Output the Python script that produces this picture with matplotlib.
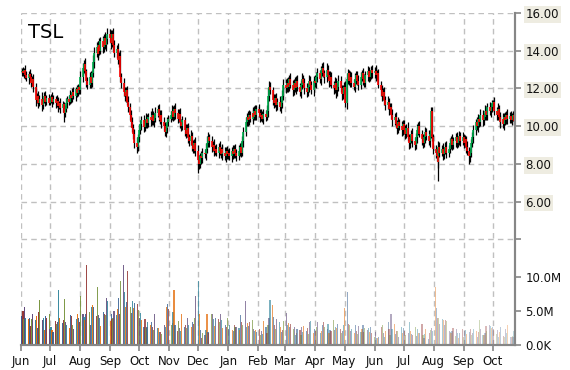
import matplotlib
matplotlib.use("Agg")  # headless
import matplotlib.pyplot as plt
import matplotlib.dates as mdates
import numpy as np
import pandas as pd

TICKER = "TSL"
START_DAY = "2014-06-02"
FIRST_OPEN = 12.85

# daily closes, one line per month (Jun 2014 .. Oct 2015)
CLOSE = [
    12.95, 12.80, 13.00, 12.70, 12.55, 12.75, 12.60, 12.30, 12.50, 12.10, 11.70, 11.40, 11.60, 11.20, 11.45, 11.10, 11.35, 11.60, 11.30, 11.50, 11.25,
    11.40, 11.55, 11.30, 11.45, 11.20, 11.35, 11.05, 11.25, 10.95, 11.15, 10.70, 10.90, 11.20, 11.45, 11.30, 11.65, 11.50, 11.80, 11.60, 11.95, 11.75, 12.05, 11.90,
    12.60, 13.10, 13.30, 12.90, 12.40, 12.20, 12.60, 12.30, 12.80, 13.40, 13.90, 14.20, 13.80, 14.30, 14.00, 14.50, 14.20, 14.70, 14.30, 14.60, 14.90,
    14.70, 14.40, 14.90, 14.30, 13.90, 14.10, 13.50, 13.70, 12.60, 12.30, 11.80, 11.60, 11.90, 11.30, 11.00, 10.60, 10.20, 9.90, 9.60, 9.10, 8.90, 9.40,
    9.80, 10.10, 10.30, 9.95, 10.20, 10.40, 10.15, 10.50, 10.30, 10.60, 10.25, 10.45, 10.70, 10.90, 10.55, 10.35, 10.60, 10.20, 10.00, 9.70, 9.90, 10.20, 10.40,
    10.60, 10.80, 10.50, 10.90, 10.70, 10.40, 10.65, 10.20, 10.00, 10.30, 9.80, 9.60, 9.90, 9.40, 9.20, 9.50, 9.00, 8.80, 9.10, 8.70,
    8.20, 8.00, 8.40, 8.30, 8.60, 8.50, 8.80, 9.10, 9.40, 9.20, 8.90, 9.00, 8.70, 8.80, 8.60, 8.90, 8.70, 8.50, 8.80, 8.60, 8.40, 8.70, 8.50,
    8.60, 8.40, 8.70, 8.50, 8.80, 8.60, 8.40, 8.70, 8.90, 8.60, 9.20, 9.70, 10.20, 10.50, 10.30, 10.60, 10.40, 10.70, 10.50, 10.80, 10.60, 10.90,
    10.70, 10.50, 10.60, 10.40, 10.65, 10.50, 10.80, 11.60, 12.10, 11.90, 11.40, 11.20, 11.50, 11.10, 11.30, 11.00, 11.20, 11.60, 11.90, 12.20,
    12.00, 12.30, 12.10, 12.50, 12.20, 11.90, 12.30, 12.00, 12.40, 12.10, 11.80, 12.20, 12.50, 12.30, 12.00, 11.80, 12.10, 12.40, 12.20, 11.90, 12.20, 12.40,
    12.30, 12.60, 12.80, 12.50, 12.90, 13.10, 12.80, 12.60, 13.00, 12.70, 12.40, 12.60, 12.20, 12.00, 12.30, 11.90, 12.10, 12.40, 12.00, 11.70, 11.90, 12.10,
    11.20, 12.50, 12.80, 12.40, 12.60, 12.30, 12.10, 12.50, 12.70, 12.40, 12.20, 12.60, 12.80, 12.50, 12.30, 12.70, 12.90, 12.60, 12.80, 13.00, 12.80,
    12.90, 12.95, 12.70, 12.80, 12.20, 11.90, 11.60, 11.80, 11.40, 11.10, 11.30, 10.90, 11.00, 10.60, 10.30, 10.50, 10.10, 9.90, 10.20, 10.00, 9.80, 10.10,
    9.80, 9.60, 9.90, 9.40, 9.10, 9.30, 9.60, 9.20, 9.00, 9.40, 9.80, 10.00, 9.60, 9.30, 9.10, 9.40, 9.70, 9.50, 9.20, 9.60, 10.80, 9.40, 8.80,
    8.60, 8.40, 8.10, 8.90, 8.60, 8.80, 8.50, 8.70, 8.90, 8.60, 8.80, 9.10, 9.30, 9.00, 9.20, 9.40, 9.10, 9.30, 9.50, 9.20, 9.40,
    9.10, 9.30, 8.90, 8.70, 8.40, 8.60, 9.10, 9.40, 9.80, 10.20, 10.00, 10.40, 10.20, 10.60, 10.30, 10.50, 10.80, 10.60, 11.00, 10.80, 11.00, 11.20,
    11.30, 10.80, 10.60, 10.90, 10.50, 10.20, 10.40, 10.10, 10.50, 10.30, 10.60, 10.40, 10.55, 10.35, 10.50, 10.60, 10.25,
]

# shadow above the body / below the body
WICK_UP = [
    .15, .20, .10, .25, .20, .15, .30, .20, .15, .25, .20, .30, .15, .25, .20, .35, .15, .20, .25, .15, .20,
    .20, .15, .25, .20, .15, .30, .20, .10, .25, .20, .15, .20, .30, .15, .20, .25, .15, .20, .30, .15, .25, .20, .15,
    .30, .25, .20, .30, .15, .20, .25, .30, .20, .35, .30, .25, .30, .20, .35, .25, .30, .20, .30, .20, .30,
    .25, .40, .20, .30, .25, .20, .30, .25, .35, .20, .25, .30, .20, .25, .30, .20, .25, .30, .20, .25, .30, .20,
    .30, .20, .25, .30, .20, .30, .25, .20, .30, .35, .20, .25, .30, .20, .25, .30, .20, .25, .30, .20, .25, .30, .20,
    .20, .30, .25, .20, .30, .20, .25, .30, .20, .25, .20, .30, .20, .25, .20, .30, .20, .25, .20, .30,
    .30, .25, .20, .30, .25, .20, .30, .35, .30, .20, .25, .20, .30, .20, .25, .20, .30, .20, .25, .20, .30, .20, .25,
    .20, .25, .20, .30, .20, .25, .20, .30, .20, .25, .30, .25, .30, .20, .30, .25, .20, .30, .20, .25, .30, .20,
    .25, .20, .30, .20, .25, .20, .30, .40, .30, .25, .20, .30, .20, .25, .20, .30, .20, .30, .25, .30,
    .30, .25, .30, .20, .30, .25, .20, .30, .25, .30, .20, .25, .30, .20, .25, .30, .20, .30, .25, .20, .30, .25,
    .30, .25, .30, .20, .30, .25, .30, .20, .35, .25, .20, .30, .25, .20, .30, .25, .20, .30, .25, .20, .30, .25,
    .30, .30, .25, .20, .30, .25, .20, .30, .25, .20, .30, .25, .20, .30, .25, .20, .30, .25, .20, .20, .25,
    .25, .20, .30, .20, .25, .20, .30, .20, .25, .20, .30, .20, .25, .20, .30, .20, .25, .20, .30, .20, .25, .20,
    .20, .25, .20, .30, .20, .25, .20, .30, .20, .25, .30, .20, .25, .20, .30, .20, .25, .20, .30, .20, .20, .20, .20,
    .20, .25, .20, .30, .25, .20, .30, .20, .25, .30, .20, .25, .20, .30, .20, .25, .30, .20, .25, .20, .30,
    .20, .25, .20, .30, .20, .25, .20, .30, .25, .20, .30, .25, .20, .30, .25, .20, .30, .25, .20, .30, .25, .20,
    .10, .25, .20, .30, .20, .25, .20, .30, .20, .25, .20, .30, .20, .25, .20, .20, .25,
]
WICK_DN = [
    .20, .15, .25, .20, .15, .30, .20, .25, .15, .30, .20, .35, .20, .25, .15, .30, .20, .15, .25, .20, .15,
    .15, .20, .30, .15, .25, .20, .30, .15, .25, .20, .50, .20, .15, .25, .20, .15, .30, .20, .15, .25, .20, .15, .20,
    .20, .25, .30, .20, .30, .25, .20, .30, .25, .20, .30, .25, .20, .30, .25, .20, .30, .25, .20, .30, .25,
    .25, .30, .20, .30, .25, .30, .20, .35, .25, .30, .20, .25, .30, .20, .25, .30, .25, .20, .30, .25, .30, .20,
    .25, .20, .30, .25, .20, .30, .25, .20, .30, .25, .20, .30, .25, .20, .30, .25, .20, .30, .25, .20, .30, .25, .20,
    .20, .30, .25, .20, .30, .25, .20, .30, .25, .20, .30, .25, .20, .30, .25, .20, .30, .25, .20, .30,
    .70, .25, .20, .30, .25, .20, .30, .25, .20, .30, .25, .20, .30, .25, .20, .30, .25, .20, .30, .25, .20, .30, .25,
    .25, .20, .30, .25, .20, .30, .25, .20, .30, .25, .20, .30, .25, .20, .30, .25, .20, .30, .25, .20, .30, .25,
    .20, .30, .25, .20, .30, .25, .20, .30, .25, .20, .30, .25, .20, .30, .25, .20, .30, .25, .20, .30,
    .25, .20, .30, .25, .20, .30, .25, .20, .30, .25, .20, .30, .25, .20, .30, .25, .20, .30, .25, .20, .30, .25,
    .20, .30, .25, .20, .30, .25, .20, .30, .25, .20, .30, .25, .20, .30, .25, .40, .30, .25, .20, .30, .25, .20,
    .20, .30, .25, .20, .30, .25, .20, .30, .25, .20, .30, .25, .20, .30, .25, .20, .30, .25, .20, .30, .25,
    .25, .20, .30, .25, .20, .30, .25, .20, .30, .25, .20, .30, .25, .20, .30, .25, .20, .30, .25, .20, .30, .25,
    .20, .30, .25, .20, .30, .25, .20, .30, .25, .20, .30, .25, .20, .30, .25, .20, .30, .25, .20, .30, .25, .20, .30,
    .30, .25, .30, 1.00, .25, .20, .30, .25, .20, .30, .25, .20, .30, .25, .20, .30, .25, .20, .30, .25, .20,
    .25, .20, .30, .25, .40, .30, .25, .20, .30, .25, .20, .30, .25, .20, .30, .25, .20, .30, .25, .20, .30, .25,
    .25, .20, .30, .25, .20, .30, .25, .20, .30, .25, .20, .30, .25, .20, .30, .25, .20,
]

# daily volume in millions
VOLUME_M = [
    4.2, 5.0, 3.8, 5.6, 3.9, 3.8, 4.0, 2.8, 3.8, 4.5, 3.6, 4.3, 2.5, 4.8, 6.6, 3.6, 3.9, 2.2, 4.2, 4.0, 4.5,
    2.3, 2.6, 2.2, 1.9, 3.5, 3.1, 3.3, 8.0, 4.0, 3.2, 3.6, 6.7, 3.4, 2.9, 2.5, 4.4, 4.3, 3.0, 2.4, 3.8, 4.5, 4.0, 3.3,
    7.2, 4.5, 4.1, 3.6, 4.5, 11.7, 4.8, 3.0, 5.6, 5.8, 5.5, 4.2, 8.5, 4.4, 3.9, 2.8, 4.9, 4.6, 4.4, 6.9, 6.4,
    3.5, 4.6, 3.8, 4.0, 5.0, 4.4, 5.2, 6.9, 4.6, 9.3, 11.7, 7.8, 5.5, 6.3, 10.9, 5.6, 4.7, 6.5, 5.4, 6.2, 6.0, 5.1,
    4.0, 4.7, 3.6, 2.7, 3.8, 2.5, 2.6, 3.4, 2.9, 3.3, 2.6, 2.2, 4.5, 2.5, 2.5, 1.9, 1.9, 1.6, 3.0, 2.7, 5.6, 6.0, 5.3,
    3.0, 3.2, 4.8, 8.0, 2.9, 2.0, 3.5, 2.5, 2.0, 4.5, 2.6, 3.0, 2.5, 4.0, 3.0, 2.6, 3.3, 3.1, 4.0, 7.2,
    9.3, 4.5, 2.2, 1.0, 1.7, 1.4, 2.2, 4.5, 1.9, 1.7, 4.5, 4.5, 3.8, 2.8, 4.0, 3.8, 3.3, 4.5, 3.6, 2.5, 2.9, 2.7, 3.9,
    2.3, 2.9, 2.2, 2.0, 3.0, 2.6, 2.7, 2.5, 2.2, 4.4, 3.4, 3.0, 6.4, 2.7, 3.2, 2.8, 3.3, 3.7, 2.4, 2.0, 2.2, 1.9,
    2.3, 1.5, 2.0, 1.6, 3.5, 2.6, 1.7, 3.0, 4.0, 6.6, 5.8, 4.1, 2.9, 2.4, 3.8, 3.3, 2.6, 1.9, 2.2, 3.5,
    4.7, 2.9, 3.2, 2.6, 3.1, 2.3, 2.6, 1.5, 1.7, 2.4, 2.2, 1.5, 2.6, 1.9, 2.8, 2.1, 2.5, 1.6, 3.3, 3.5, 1.8, 2.4,
    2.0, 2.6, 3.3, 1.7, 2.0, 3.0, 3.3, 2.6, 2.4, 3.1, 1.8, 2.2, 2.0, 3.6, 2.2, 2.7, 2.5, 3.1, 2.4, 1.8, 2.0, 2.9,
    5.4, 7.8, 3.1, 2.9, 2.0, 2.4, 1.7, 2.9, 2.1, 1.6, 2.8, 1.9, 2.4, 3.0, 1.9, 2.5, 2.2, 2.5, 1.9, 2.6, 1.7,
    1.2, 1.9, 1.0, 1.0, 1.2, 2.6, 3.0, 1.7, 1.2, 2.1, 3.3, 2.4, 1.4, 4.5, 2.3, 3.1, 1.6, 2.1, 2.0, 1.2, 2.6, 1.8,
    2.5, 2.1, 1.4, 1.8, 3.4, 2.0, 1.6, 1.4, 2.7, 1.3, 2.3, 1.7, 1.8, 3.1, 1.5, 1.0, 1.6, 2.4, 0.9, 1.7, 2.2, 2.5, 2.0,
    8.5, 5.4, 3.9, 4.0, 3.1, 3.8, 3.6, 2.9, 3.7, 3.5, 2.0, 1.9, 1.7, 2.1, 2.5, 1.3, 2.4, 1.7, 1.0, 1.7, 2.3,
    1.1, 2.0, 2.2, 1.6, 1.9, 2.3, 1.4, 1.8, 2.3, 2.0, 1.2, 1.9, 3.6, 2.4, 1.5, 1.4, 1.7, 2.8, 2.0, 3.0, 2.8, 2.5,
    2.6, 2.3, 1.6, 2.2, 1.2, 1.9, 2.7, 1.3, 1.2, 2.3, 1.8, 3.0, 1.1, 1.2, 1.3, 1.1, 2.0,
]

PRICE_TICKS = [4, 6, 8, 10, 12, 14, 16]
PRICE_LABELS = ["", "6.00", "8.00", "10.00", "12.00", "14.00", "16.00"]
VOL_TICKS = [0, 5, 10]
VOL_LABELS = ["0.0K", "5.0M", "10.0M"]

VOL_COLORS = ["#376092", "#953735", "#77933C", "#604A7B", "#31859C", "#E46C0A"]
UP_COLOR = "#00B050"
DOWN_COLOR = "#FF0000"
AXIS_GRAY = "#868686"
GRID_GRAY = "#C0C0C0"

n = min(len(CLOSE), len(WICK_UP), len(WICK_DN), len(VOLUME_M))
dates = pd.bdate_range(START_DAY, periods=n)
x = mdates.date2num(dates.to_pydatetime())

close = np.array(CLOSE[:n])
opn = np.concatenate([[FIRST_OPEN], close[:-1]])
high = np.maximum(opn, close) + np.array(WICK_UP[:n])
low = np.minimum(opn, close) - np.array(WICK_DN[:n])
vol = np.array(VOLUME_M[:n])

fig = plt.figure(figsize=(5.7, 3.7), dpi=100)
ax = fig.add_axes([21 / 570, 1 - 345 / 370, 494 / 570, 332 / 370])
axv = ax.twinx()

# candles: black shadows, coloured bodies
ax.vlines(x, low, high, color="black", lw=0.9, zorder=3)
up = close >= opn
ax.vlines(x[up], opn[up], close[up], color=UP_COLOR, lw=1.2, zorder=4)
ax.vlines(x[~up], opn[~up], close[~up], color=DOWN_COLOR, lw=1.2, zorder=4)

# volume bars, cycling colours and fading towards the right
fade = np.linspace(1.0, 0.3, n)
rgba = [matplotlib.colors.to_rgba(VOL_COLORS[i % len(VOL_COLORS)], fade[i]) for i in range(n)]
axv.bar(x, vol, width=1.2, color=rgba, linewidth=0, zorder=2)

ax.set_xlim(mdates.date2num(pd.Timestamp("2014-06-01")), mdates.date2num(pd.Timestamp("2015-10-24")))
ax.set_ylim(-1.61, 16)
axv.set_ylim(0, 48.6)

ax.xaxis.set_major_locator(mdates.MonthLocator(bymonthday=1))
ax.xaxis.set_major_formatter(mdates.DateFormatter("%b"))

ax.yaxis.tick_right()
ax.set_yticks(PRICE_TICKS)
ax.set_yticklabels(PRICE_LABELS)
axv.set_yticks(VOL_TICKS)
axv.set_yticklabels(VOL_LABELS)

for a in (ax, axv):
    for side in ("top", "left"):
        a.spines[side].set_visible(False)
    for side in ("right", "bottom"):
        a.spines[side].set_color(AXIS_GRAY)
        a.spines[side].set_linewidth(1.5)
    a.tick_params(axis="both", colors=AXIS_GRAY, labelcolor="#111111", labelsize=8.5,
                  length=4.5, width=1.2, direction="out", pad=3)

for lbl in ax.get_yticklabels():
    if lbl.get_text():
        lbl.set_bbox(dict(boxstyle="square,pad=0.15", fc="#EEECE1", ec="none"))

ax.grid(True, axis="x", ls=(0, (4, 3)), color=GRID_GRAY, lw=1)
ax.grid(True, axis="y", ls=(0, (4, 3)), color=GRID_GRAY, lw=1)
ax.set_axisbelow(True)

ax.text(0.014, 0.925, TICKER, transform=ax.transAxes, fontsize=14, color="black",
        ha="left", va="baseline")

fig.savefig("out.png", dpi=100)
